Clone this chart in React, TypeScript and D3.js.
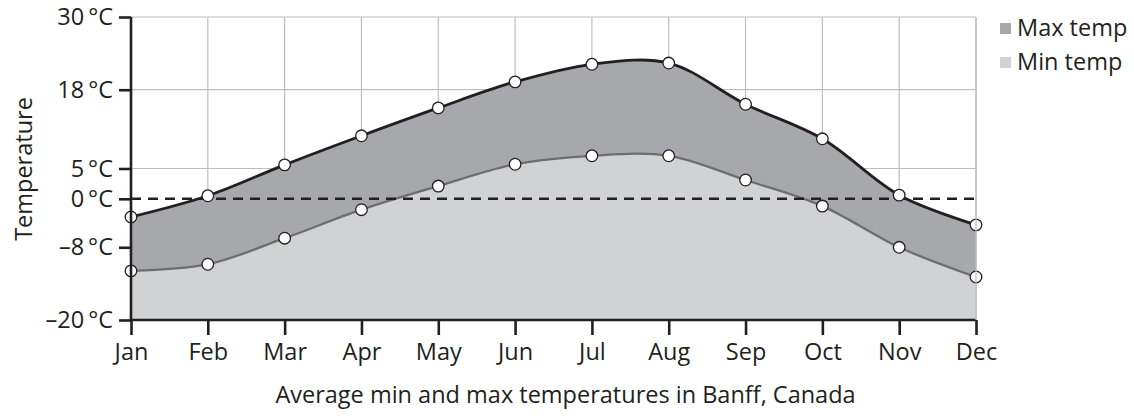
import * as d3 from "d3";
import { useEffect, useRef } from "react";

const months = ["Jan", "Feb", "Mar", "Apr", "May", "Jun", "Jul", "Aug", "Sep", "Oct", "Nov", "Dec"];
const maxTemp = [-3.0, 0.5, 5.6, 10.4, 15.0, 19.3, 22.2, 22.4, 15.6, 9.9, 0.6, -4.3];
const minTemp = [-11.9, -10.8, -6.5, -1.8, 2.1, 5.7, 7.1, 7.1, 3.1, -1.2, -8.0, -12.9];
const yTicks = [30, 18, 5, 0, -8, -20];
const legendItems = [
    { label: "Max temp", color: "#a7a8ab" },
    { label: "Min temp", color: "#d1d2d4" },
];

const W = 1134;
const H = 416;
const FONT = "'Open Sans', 'Noto Sans', sans-serif";

export default function App() {
    const ref = useRef<SVGSVGElement>(null);

    useEffect(() => {
        const svg = d3.select(ref.current);
        svg.selectAll("*").remove();

        const left = 131, right = 976, top = 17, bottom = 320;

        const x = d3.scalePoint<string>().domain(months).range([left, right]);
        const y = d3.scaleLinear().domain([-20, 30]).range([bottom, top]);

        const g = svg.append("g");

        // grid
        g.selectAll("line.vgrid")
            .data(months)
            .enter()
            .append("line")
            .attr("x1", d => x(d)!)
            .attr("x2", d => x(d)!)
            .attr("y1", top)
            .attr("y2", bottom)
            .attr("stroke", "#bcbec0")
            .attr("stroke-width", 1.2);

        g.selectAll("line.hgrid")
            .data(yTicks.filter(t => t !== 0))
            .enter()
            .append("line")
            .attr("x1", left)
            .attr("x2", right)
            .attr("y1", d => y(d))
            .attr("y2", d => y(d))
            .attr("stroke", "#bcbec0")
            .attr("stroke-width", 1.2);

        const curve = d3.curveCatmullRom.alpha(0.5);

        const area = d3.area<number>()
            .x((_, i) => x(months[i])!)
            .y0(y(-20))
            .y1(d => y(d))
            .curve(curve);
        const line = d3.line<number>()
            .x((_, i) => x(months[i])!)
            .y(d => y(d))
            .curve(curve);

        g.append("path").attr("d", area(maxTemp)).attr("fill", legendItems[0].color);
        g.append("path").attr("d", area(minTemp)).attr("fill", legendItems[1].color);

        g.append("path").attr("d", line(minTemp)).attr("fill", "none")
            .attr("stroke", "#6d6e71").attr("stroke-width", 2.3);
        g.append("path").attr("d", line(maxTemp)).attr("fill", "none")
            .attr("stroke", "#231f20").attr("stroke-width", 2.8);

        // zero line
        g.append("line")
            .attr("x1", left).attr("x2", right)
            .attr("y1", y(0)).attr("y2", y(0))
            .attr("stroke", "#231f20")
            .attr("stroke-width", 2.4)
            .attr("stroke-dasharray", "10,7");

        // points
        [minTemp, maxTemp].forEach(series => {
            g.selectAll(null)
                .data(series)
                .enter()
                .append("circle")
                .attr("cx", (_, i) => x(months[i])!)
                .attr("cy", d => y(d))
                .attr("r", 5.8)
                .attr("fill", "white")
                .attr("stroke", "#231f20")
                .attr("stroke-width", 1.3);
        });

        // axes
        const yAxis = d3.axisLeft(y).tickValues(yTicks).tickSize(12).tickPadding(6)
            .tickFormat(d => `${(d as number) < 0 ? "\u2013" + Math.abs(d as number) : d}\u2009°C`);
        const ya = svg.append("g").attr("transform", `translate(${left},0)`).call(yAxis);

        const xAxis = d3.axisBottom(x).tickSize(15).tickPadding(8);
        const xa = svg.append("g").attr("transform", `translate(0,${bottom})`).call(xAxis);

        [ya, xa].forEach(a => {
            a.select(".domain").attr("stroke", "#231f20").attr("stroke-width", 2.6);
            a.selectAll(".tick line").attr("stroke", "#231f20").attr("stroke-width", 2.6);
            a.selectAll(".tick text")
                .attr("fill", "#231f20")
                .style("font-family", FONT)
                .style("font-size", "23.5px");
        });
        ya.select(".domain").attr("d", `M0,${top}H0V${bottom}`);
        xa.select(".domain").attr("d", `M${left},0H${right}`);

        // right border
        svg.append("line")
            .attr("x1", right).attr("x2", right)
            .attr("y1", top).attr("y2", bottom)
            .attr("stroke", "#bcbec0").attr("stroke-width", 1.2);

        // titles
        svg.append("text")
            .attr("x", (left + right) / 2 + 12)
            .attr("y", 403)
            .attr("text-anchor", "middle")
            .attr("fill", "#231f20")
            .style("font-family", FONT)
            .style("font-size", "23.5px")
            .text("Average min and max temperatures in Banff, Canada");

        svg.append("text")
            .attr("transform", `translate(32,169) rotate(-90)`)
            .attr("text-anchor", "middle")
            .attr("fill", "#231f20")
            .style("font-family", FONT)
            .style("font-size", "23.5px")
            .text("Temperature");

        // legend
        const lg = svg.append("g").attr("transform", "translate(1000,0)");
        legendItems.forEach((item, i) => {
            lg.append("rect")
                .attr("x", 0).attr("y", 23 + i * 34)
                .attr("width", 11).attr("height", 11)
                .attr("fill", item.color);
            lg.append("text")
                .attr("x", 17).attr("y", 36 + i * 34)
                .attr("fill", "#231f20")
                .style("font-family", FONT)
                .style("font-size", "23.5px")
                .text(item.label);
        });
    }, []);

    return (
        <svg ref={ref} width={W} height={H}
            style={{ position: "absolute", left: 0, top: 0, background: "white" }} />
    );
}
